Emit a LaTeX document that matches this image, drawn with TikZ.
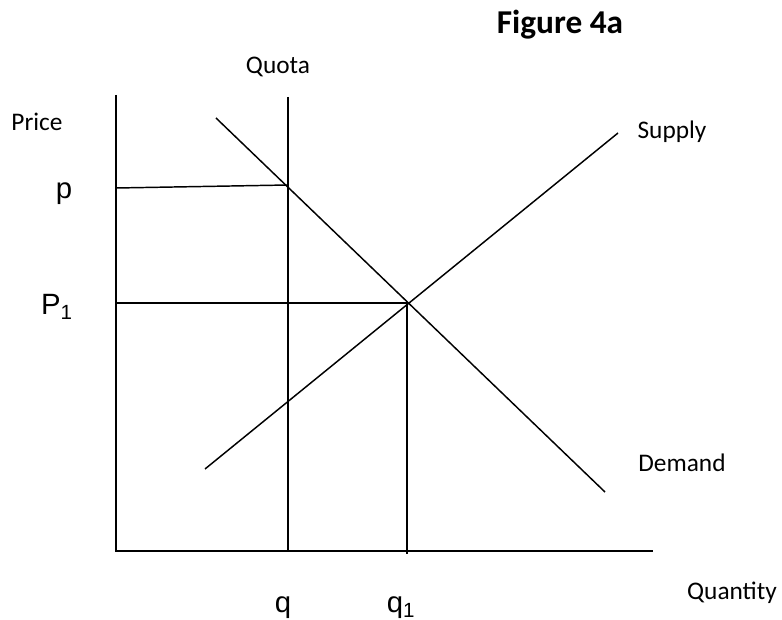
\documentclass[tikz,border=0pt]{standalone}
\usepackage{fontspec}
\setmainfont{Carlito}
\newfontfamily\arialfont{Liberation Sans}

\begin{document}
\begin{tikzpicture}[x=0.75pt, y=-0.75pt, line width=1.1pt,
        lab/.style={font=\fontsize{19}{21}\selectfont, inner sep=0pt},
        sym/.style={font=\arialfont\fontsize{22}{24}\selectfont, inner sep=0pt}]

        \useasboundingbox (0,0) rectangle (782,620);

        % --- Title ---
        \node[font=\bfseries\fontsize{25}{28}\selectfont, inner sep=0pt] (title) at (560, 25) {Figure 4a};

        % --- Key points of the diagram ---
        \coordinate (O) at (116, 551);
        \coordinate (ytop) at (116, 95);
        \coordinate (xend) at (653, 551);
        \coordinate (qtop) at (288, 97);
        \coordinate (qbot) at (288, 551);
        \coordinate (dtop) at (216, 118);
        \coordinate (dbot) at (605, 492);
        \coordinate (sbot) at (205, 469);
        \coordinate (stop) at (618, 133);
        \coordinate (E) at (407, 303);
        \coordinate (Ebot) at (407, 554);
        \coordinate (P1ax) at (116, 303);
        \coordinate (pax) at (116, 188);
        \coordinate (pq) at (288, 185);

        % --- Axes ---
        \draw (ytop) -- (O) -- (xend);

        % --- Quota line ---
        \draw (qtop) -- (qbot);

        % --- Demand and Supply ---
        \draw (dtop) -- (dbot);
        \draw (sbot) -- (stop);

        % --- Price levels and equilibrium quantity ---
        \draw (pax) -- (pq);
        \draw (P1ax) -- (E) -- (Ebot);

        % --- Labels ---
        \node[lab] (quota) at (278, 67) {Quota};
        \node[lab] (price) at (37, 122) {Price};
        \node[lab] (supply) at (672, 132) {Supply};
        \node[lab] (demand) at (682, 463) {Demand};
        \node[lab] (quantity) at (732, 593) {Quantity};
        \node[sym] (plab) at (64, 194) {p};
        \node[sym] (P1lab) at (57, 307) {P\textsubscript{1}};
        \node[sym] (qlab) at (283, 608) {q};
        \node[sym] (q1lab) at (401, 608) {q\textsubscript{1}};

    \end{tikzpicture}
\end{document}
